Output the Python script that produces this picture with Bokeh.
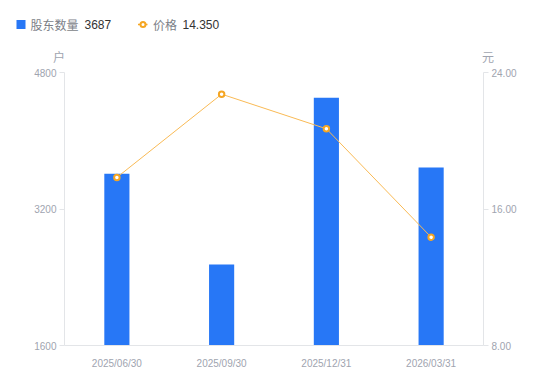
from bokeh.plotting import figure
from bokeh.models import Range1d, LinearAxis, FixedTicker, NumeralTickFormatter, FactorRange
from bokeh.core.properties import value
from bokeh.embed import file_html
from bokeh.resources import INLINE

# ---- data ----
dates = ["2025/06/30", "2025/09/30", "2025/12/31", "2026/03/31"]
holders = [3613, 2549, 4503, 3687]
prices = [17.85, 22.73, 20.70, 14.35]
left_ticks = [1600, 3200, 4800]
right_ticks = [8, 16, 24]
bar_name = "股东数量"
line_name = "价格"
bar_last = "3687"
line_last = "14.350"
left_unit = "户"
right_unit = "元"

BLUE = "#2777F6"
ORANGE = "#F5A623"
ORANGE_LINE = "#F9BA55"
TICK = "#A0A4AF"
AXIS = "#E3E5E8"
NAME = "#7C7F88"
VAL = "#333333"
CJK = "Noto Sans CJK SC"
LAT = "Liberation Sans"

W = 548

# ---- header strip: legend and unit titles (1 data unit = 1 px) ----
HH = 64
hf = figure(width=W, height=HH, x_range=Range1d(0, W), y_range=Range1d(0, HH),
            output_backend="svg", toolbar_location=None, min_border=0,
            x_axis_location=None, y_axis_location=None)
hf.outline_line_color = None
hf.xgrid.visible = False
hf.ygrid.visible = False
ly = 40.0
hf.rect(x=[20.5], y=[ly], width=9, height=9, fill_color=BLUE, line_color=None)
hf.line(x=[137.5, 147], y=[ly, ly], line_color=ORANGE, line_width=1.5)
hf.scatter(x=[142.5], y=[ly], size=5, fill_color="white", line_color=ORANGE, line_width=2)
hf.text(x=[30], y=[ly], text=[bar_name], text_baseline="middle", text_font_size="12px",
        text_color=NAME, text_font=value(CJK))
hf.text(x=[84], y=[ly], text=[bar_last], text_baseline="middle", text_font_size="12px",
        text_color=VAL, text_font=value(LAT))
hf.text(x=[152.5], y=[ly], text=[line_name], text_baseline="middle", text_font_size="12px",
        text_color=NAME, text_font=value(CJK))
hf.text(x=[182], y=[ly], text=[line_last], text_baseline="middle", text_font_size="12px",
        text_color=VAL, text_font=value(LAT))
hf.text(x=[58.5], y=[8.5], text=[left_unit], text_align="center", text_baseline="middle",
        text_font_size="12px", text_color=TICK, text_font=value(CJK))
hf.text(x=[487.5], y=[8.5], text=[right_unit], text_align="center", text_baseline="middle",
        text_font_size="12px", text_color=TICK, text_font=value(CJK))

# ---- main chart ----
p = figure(x_range=FactorRange(*dates), y_range=Range1d(left_ticks[0], left_ticks[-1]),
           width=W, height=311, output_backend="svg", toolbar_location=None,
           min_border_left=64, min_border_right=65, min_border_top=8, min_border_bottom=30)
p.extra_y_ranges = {"price": Range1d(right_ticks[0], right_ticks[-1])}
p.outline_line_color = None
p.xgrid.visible = False
p.ygrid.visible = False

p.vbar(x=dates, top=holders, bottom=left_ticks[0], width=0.24, fill_color=BLUE, line_color=None)
p.line(x=dates, y=prices, y_range_name="price", line_color=ORANGE_LINE, line_width=1)
p.scatter(x=dates, y=prices, y_range_name="price", size=5.5, fill_color="white",
          line_color=ORANGE, line_width=2)

ry = LinearAxis(y_range_name="price", ticker=FixedTicker(ticks=right_ticks),
                formatter=NumeralTickFormatter(format="0.00"))
p.add_layout(ry, "right")
p.yaxis[0].ticker = FixedTicker(ticks=left_ticks)

for ax in [p.yaxis[0], ry]:
    ax.axis_line_color = AXIS
    ax.major_tick_line_color = AXIS
    ax.minor_tick_line_color = None
    ax.major_tick_in = 0
    ax.major_tick_out = 5
    ax.major_label_standoff = 3
    ax.major_label_text_color = TICK
    ax.major_label_text_font_size = "10px"
    ax.major_label_text_font = LAT

xa = p.xaxis[0]
xa.axis_line_color = AXIS
xa.major_tick_line_color = None
xa.minor_tick_line_color = None
xa.major_label_standoff = 6
xa.major_label_text_color = TICK
xa.major_label_text_font_size = "10px"
xa.major_label_text_font = LAT

open("out.html", "w").write(file_html([hf, p], INLINE))
